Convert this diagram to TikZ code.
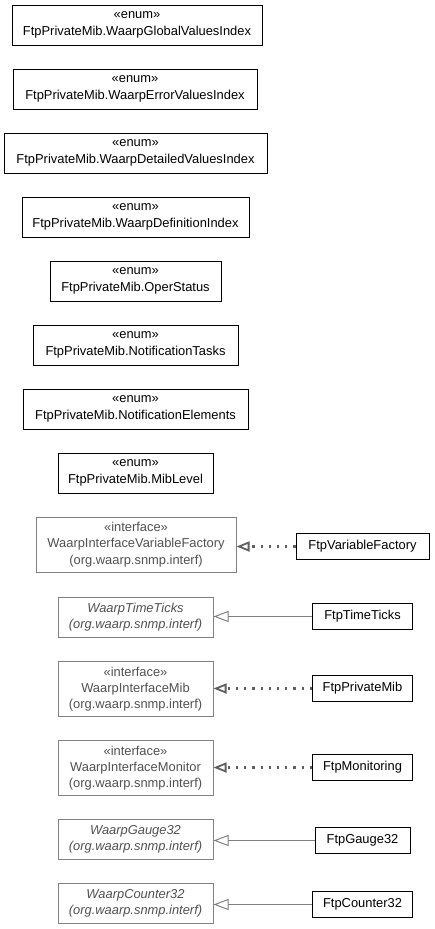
\documentclass[tikz,border=0pt]{standalone}
\usepackage{fontspec}
\setmainfont{Liberation Sans}
\usetikzlibrary{arrows.meta}
\definecolor{ifgray}{HTML}{808080}
\definecolor{iftext}{HTML}{505050}
\definecolor{dotgray}{HTML}{606060}
\begin{document}
\begin{tikzpicture}[x=1pt,y=-1pt,
  every node/.style={font=\fontsize{12.9}{16.3}\selectfont, align=center, inner sep=0pt},
  enumbox/.style={draw=black, line width=1pt, minimum height=40pt},
  ifbox/.style={draw=ifgray, line width=1pt, text=iftext, minimum width=155pt},
  clsbox/.style={draw=black, line width=1pt, minimum height=26pt},
  realize/.style={draw=dotgray, line width=2.2pt, dash pattern=on 2.2pt off 6pt, -{Triangle[open,length=13pt,width=10pt,line width=1.8pt,sep=0pt]}},
  extend/.style={draw=ifgray, line width=1pt, -{Triangle[open,length=15pt,width=11pt,line width=1pt]}}]
\useasboundingbox (0,0) rectangle (435,929);
\node[enumbox, minimum width=250pt] (e1) at (137,25) {«enum»\\FtpPrivateMib.WaarpGlobalValuesIndex};
\node[enumbox, minimum width=244pt] (e2) at (135,89) {«enum»\\FtpPrivateMib.WaarpErrorValuesIndex};
\node[enumbox, minimum width=263pt] (e3) at (135.5,153) {«enum»\\FtpPrivateMib.WaarpDetailedValuesIndex};
\node[enumbox, minimum width=227pt] (e4) at (135.5,217) {«enum»\\FtpPrivateMib.WaarpDefinitionIndex};
\node[enumbox, minimum width=171pt] (e5) at (135.5,281) {«enum»\\FtpPrivateMib.OperStatus};
\node[enumbox, minimum width=205pt] (e6) at (135.5,345) {«enum»\\FtpPrivateMib.NotificationTasks};
\node[enumbox, minimum width=225pt] (e7) at (135.5,409) {«enum»\\FtpPrivateMib.NotificationElements};
\node[enumbox, minimum width=155pt] (e8) at (135.5,473) {«enum»\\FtpPrivateMib.MibLevel};

\node[ifbox, minimum width=200pt, minimum height=55pt] (i1) at (136,544.5) {«interface»\\WaarpInterfaceVariableFactory\\(org.waarp.snmp.interf)};
\node[ifbox, minimum height=40pt] (i2) at (135.5,617) {\itshape WaarpTimeTicks\\\itshape (org.waarp.snmp.interf)};
\node[ifbox, minimum height=55pt] (i3) at (135.5,689) {«interface»\\WaarpInterfaceMib\\(org.waarp.snmp.interf)};
\node[ifbox, minimum height=55pt] (i4) at (135.5,768) {«interface»\\WaarpInterfaceMonitor\\(org.waarp.snmp.interf)};
\node[ifbox, minimum height=40pt] (i5) at (135.5,839.5) {\itshape WaarpGauge32\\\itshape (org.waarp.snmp.interf)};
\node[ifbox, minimum height=40pt] (i6) at (135.5,903.5) {\itshape WaarpCounter32\\\itshape (org.waarp.snmp.interf)};

\node[clsbox, minimum width=133pt] (c1) at (362.5,546.5) {FtpVariableFactory};
\node[clsbox, minimum width=100pt] (c2) at (362.5,616.5) {FtpTimeTicks};
\node[clsbox, minimum width=100pt] (c3) at (362.5,688.5) {FtpPrivateMib};
\node[clsbox, minimum width=100pt] (c4) at (362.5,767.5) {FtpMonitoring};
\node[clsbox, minimum width=95pt] (c5) at (362.5,840.5) {FtpGauge32};
\node[clsbox, minimum width=100pt] (c6) at (362.5,904.5) {FtpCounter32};

\draw[realize] (c1.west) -- (c1.west -| i1.east);
\draw[extend] (c2.west) -- (c2.west -| i2.east);
\draw[realize] (c3.west) -- (c3.west -| i3.east);
\draw[realize] (c4.west) -- (c4.west -| i4.east);
\draw[extend] (c5.west) -- (c5.west -| i5.east);
\draw[extend] (c6.west) -- (c6.west -| i6.east);
\end{tikzpicture}
\end{document}
